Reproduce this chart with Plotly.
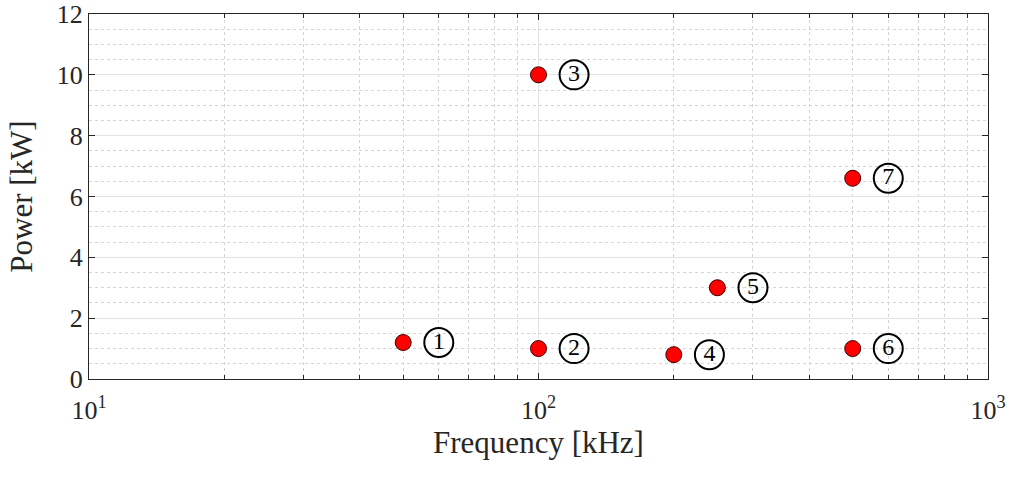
import plotly.graph_objects as go

freq_khz = [50, 100, 100, 200, 250, 500, 500]
power_kw = [1.2, 1.0, 10.0, 0.8, 3.0, 1.0, 6.6]
labels = ["1", "2", "3", "4", "5", "6", "7"]

x_ticks = [10, 100, 1000]
x_ticktext = ["10<sup>1</sup>", "10<sup>2</sup>", "10<sup>3</sup>"]
x_minor = [20, 30, 40, 50, 60, 70, 80, 90, 200, 300, 400, 500, 600, 700, 800, 900]
y_ticks = [0, 2, 4, 6, 8, 10, 12]

FONT = "Liberation Serif, Times New Roman, serif"
label_factor = 1.2

fig = go.Figure()
fig.add_trace(go.Scatter(
    x=freq_khz, y=power_kw, mode="markers",
    marker=dict(color="#ff0000", size=16, line=dict(color="#3a0000", width=1)),
    showlegend=False, hoverinfo="x+y"))
fig.add_trace(go.Scatter(
    x=[f * label_factor for f in freq_khz], y=power_kw, mode="markers+text",
    text=labels, textposition="middle center",
    textfont=dict(family=FONT, size=24, color="black"),
    marker=dict(symbol="circle-open", size=29, color="black", line=dict(width=2)),
    showlegend=False, hoverinfo="skip"))

axis_common = dict(
    showline=True, linecolor="#262626", linewidth=1.3, mirror="allticks",
    ticks="inside", ticklen=6, tickcolor="#262626", tickwidth=1,
    gridcolor="#e3e3e3", gridwidth=1, zeroline=False, automargin=False,
    ticklabeloverflow="allow",
    tickfont=dict(family=FONT, size=26, color="#262626"),
)

fig.update_xaxes(
    type="log", range=[1, 3], tickvals=x_ticks, ticktext=x_ticktext,
    ticklabelstandoff=8,
    title=dict(text="Frequency [kHz]", font=dict(family=FONT, size=31, color="#262626"), standoff=4),
    minor=dict(tickvals=x_minor, ticks="inside", ticklen=4, tickcolor="#262626",
               showgrid=True, griddash="dot", gridcolor="#d4d4d4", gridwidth=1),
    **axis_common)
fig.update_yaxes(
    range=[0, 12], tickvals=y_ticks,
    title=dict(text="Power [kW]", font=dict(family=FONT, size=31, color="#262626"), standoff=14),
    minor=dict(dtick=0.5, ticks="", showgrid=True, griddash="dot", gridcolor="#d4d4d4", gridwidth=1),
    **axis_common)

fig.update_layout(
    width=1011, height=477,
    margin=dict(l=89, r=23, t=14, b=98),
    paper_bgcolor="white", plot_bgcolor="white",
    font=dict(family=FONT, color="#262626"),
)

fig.write_html("out.html")
